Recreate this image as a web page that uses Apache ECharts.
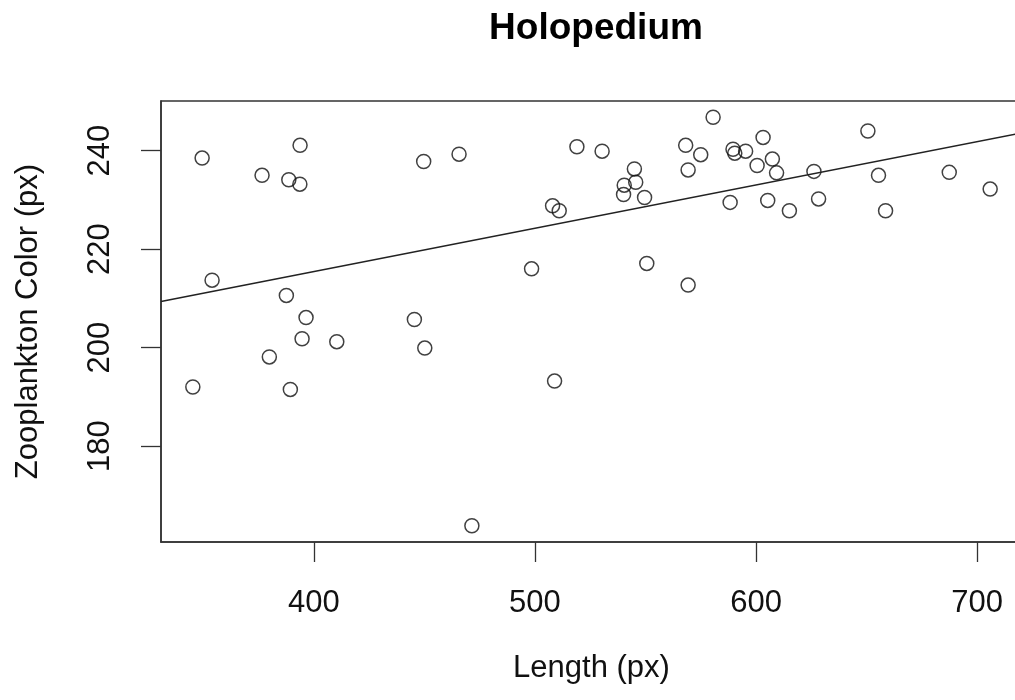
<!DOCTYPE html>
<html>
<head>
<meta charset="utf-8">
<title>Holopedium</title>
<script src="https://cdn.jsdelivr.net/npm/echarts@6/dist/echarts.min.js"></script>
<style>
  html, body { margin: 0; padding: 0; background: #fff; }
  #chart { width: 1015px; height: 700px; }
</style>
</head>
<body>
<div id="chart"></div>
<script>
// Length (px) of each animal
const lengths = [
  345.3, 349.5, 354.0, 376.6, 379.9, 387.6, 388.7, 389.4, 393.7, 393.8,
  394.7, 396.5, 410.4, 445.5, 449.7, 450.2, 465.7, 471.5, 498.5, 508.0,
  508.9, 511.0, 519.0, 530.4, 540.1, 540.4, 545.0, 545.6, 549.6, 550.6,
  568.2, 569.3, 569.3, 575.0, 580.6, 588.3, 589.6, 590.4, 595.3, 600.5,
  603.2, 605.3, 607.4, 609.3, 615.1, 626.2, 628.3, 650.6, 655.4, 658.6,
  687.4, 705.9
];
// Zooplankton color (px), same order
const colors = [
  192.0, 238.5, 213.7, 235.0, 198.1, 210.6, 234.1, 191.5, 233.2, 241.1,
  201.8, 206.1, 201.2, 205.7, 237.8, 199.9, 239.3, 163.8, 216.0, 228.8,
  193.2, 227.8, 240.8, 239.9, 231.1, 233.0, 236.3, 233.6, 230.5, 217.1,
  241.1, 236.1, 212.7, 239.2, 246.8, 229.5, 240.3, 239.5, 239.9, 237.0,
  242.7, 229.9, 238.3, 235.5, 227.8, 235.8, 230.2, 244.0, 235.0, 227.8,
  235.6, 232.2
];
const xTicks = [400, 500, 600, 700];
const yTicks = [180, 200, 220, 240];
const xRange = [330.9, 720.3];
const yRange = [160.5, 250.1];
const fit = { intercept: 180.26, slope: 0.08797 };

const points = lengths.map((x, i) => [x, colors[i]]);
const fitLine = xRange.map((x) => [x, fit.intercept + fit.slope * x]);

const font = "Liberation Sans, Arial, Helvetica, sans-serif";
const chart = echarts.init(document.getElementById("chart"));
chart.setOption({
  animation: false,
  backgroundColor: "#fff",
  title: {
    text: "Holopedium",
    left: 591,
    top: 5,
    textAlign: "center",
    textStyle: { fontFamily: font, fontSize: 37, fontWeight: "bold", color: "#000" },
  },
  grid: {
    left: 161, top: 101, width: 861, height: 441,
    outerBoundsMode: "none",
    containLabel: false,
    show: true, borderColor: "#333", borderWidth: 1.5, backgroundColor: "transparent",
  },
  xAxis: {
    type: "value",
    min: xRange[0],
    max: xRange[1],
    name: "Length (px)",
    nameLocation: "middle",
    nameGap: 111,
    nameTextStyle: { fontFamily: font, fontSize: 31, color: "#111" },
    axisLine: { show: true, onZero: false, lineStyle: { color: "#333", width: 1.5 } },
    axisTick: { show: true, length: 20, customValues: xTicks, lineStyle: { color: "#333", width: 1.3 } },
    axisLabel: { customValues: xTicks, margin: 46, fontFamily: font, fontSize: 31, color: "#111" },
    splitLine: { show: false },
  },
  yAxis: {
    type: "value",
    min: yRange[0],
    max: yRange[1],
    name: "Zooplankton Color (px)",
    nameLocation: "middle",
    nameGap: 117,
    nameTextStyle: { fontFamily: font, fontSize: 31, color: "#111" },
    axisLine: { show: true, onZero: false, lineStyle: { color: "#333", width: 1.5 } },
    axisTick: { show: true, length: 20, customValues: yTicks, lineStyle: { color: "#333", width: 1.3 } },
    axisLabel: { customValues: yTicks, rotate: 90, margin: 45, fontFamily: font, fontSize: 31, color: "#111" },
    splitLine: { show: false },
  },
  series: [
    {
      type: "scatter",
      data: points,
      symbol: "circle",
      symbolSize: 14,
      itemStyle: { color: "transparent", borderColor: "#111", borderWidth: 1.5 },
    },
    {
      type: "line",
      data: fitLine,
      symbol: "none",
      lineStyle: { color: "#222", width: 1.5 },
    },
  ],
});
</script>
</body>
</html>
